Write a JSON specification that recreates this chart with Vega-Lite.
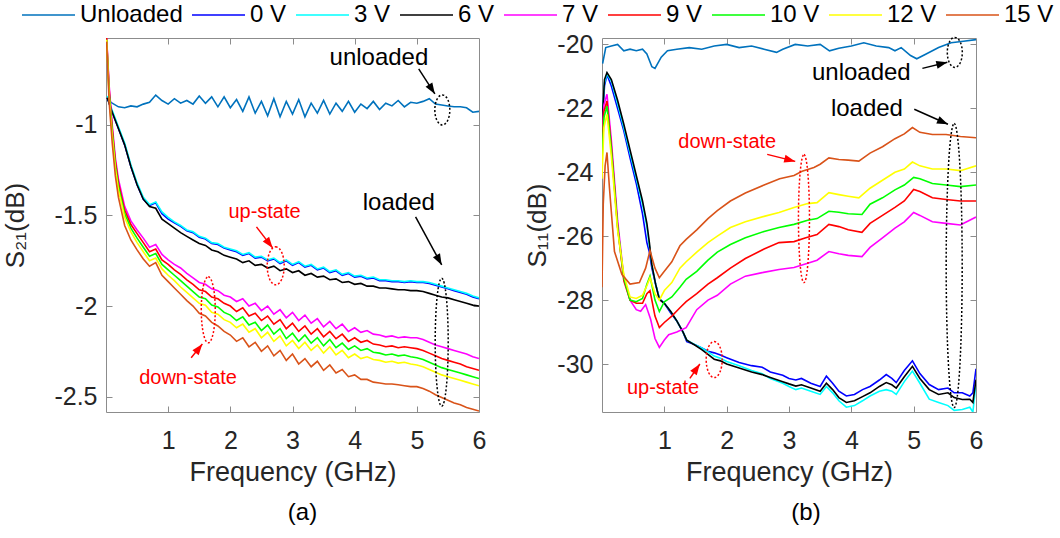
{
"$schema":"https://vega.github.io/schema/vega-lite/v6.json",
"background":"white",
"padding":{"left":2,"top":2,"right":5,"bottom":5},
"autosize":{"type":"pad"},
"config":{
 "font":"Liberation Sans",
 "view":{"stroke":"#8c8c8c","strokeWidth":1},
 "axis":{"grid":false,"domain":false,"ticks":true,"tickSize":-6,"tickColor":"#8c8c8c","tickWidth":1,"labelFont":"Liberation Sans","labelFontSize":25,"labelColor":"#262626","labelFlush":false,"labelOverlap":false,"titleFont":"Liberation Sans","titleFontSize":26,"titleFontWeight":"normal","titleColor":"#262626"},
 "axisX":{"labelPadding":22,"titlePadding":6,"titleFontSize":27},
 "axisY":{"labelPadding":15,"titlePadding":16},
 "title":{"font":"Liberation Sans","fontSize":24,"fontWeight":"normal","color":"#000000"}
},
"datasets":{
"s21":[
{"s":"Unloaded","f":0.02,"v":-0.86},{"s":"Unloaded","f":0.1,"v":-0.88},{"s":"Unloaded","f":0.2,"v":-0.9},{"s":"Unloaded","f":0.3,"v":-0.905},{"s":"Unloaded","f":0.4,"v":-0.895},{"s":"Unloaded","f":0.5,"v":-0.9},{"s":"Unloaded","f":0.6,"v":-0.885},{"s":"Unloaded","f":0.7,"v":-0.875},{"s":"Unloaded","f":0.8,"v":-0.835},{"s":"Unloaded","f":0.9,"v":-0.865},{"s":"Unloaded","f":1.0,"v":-0.885},{"s":"Unloaded","f":1.1,"v":-0.855},{"s":"Unloaded","f":1.2,"v":-0.88},{"s":"Unloaded","f":1.3,"v":-0.865},{"s":"Unloaded","f":1.4,"v":-0.885},{"s":"Unloaded","f":1.5,"v":-0.84},{"s":"Unloaded","f":1.6,"v":-0.88},{"s":"Unloaded","f":1.7,"v":-0.845},{"s":"Unloaded","f":1.8,"v":-0.9},{"s":"Unloaded","f":1.9,"v":-0.845},{"s":"Unloaded","f":2.0,"v":-0.905},{"s":"Unloaded","f":2.1,"v":-0.86},{"s":"Unloaded","f":2.2,"v":-0.925},{"s":"Unloaded","f":2.3,"v":-0.845},{"s":"Unloaded","f":2.4,"v":-0.935},{"s":"Unloaded","f":2.5,"v":-0.87},{"s":"Unloaded","f":2.6,"v":-0.95},{"s":"Unloaded","f":2.7,"v":-0.855},{"s":"Unloaded","f":2.8,"v":-0.955},{"s":"Unloaded","f":2.9,"v":-0.87},{"s":"Unloaded","f":3.0,"v":-0.94},{"s":"Unloaded","f":3.1,"v":-0.86},{"s":"Unloaded","f":3.2,"v":-0.955},{"s":"Unloaded","f":3.3,"v":-0.88},{"s":"Unloaded","f":3.4,"v":-0.935},{"s":"Unloaded","f":3.5,"v":-0.865},{"s":"Unloaded","f":3.6,"v":-0.94},{"s":"Unloaded","f":3.7,"v":-0.88},{"s":"Unloaded","f":3.8,"v":-0.925},{"s":"Unloaded","f":3.9,"v":-0.87},{"s":"Unloaded","f":4.0,"v":-0.93},{"s":"Unloaded","f":4.1,"v":-0.885},{"s":"Unloaded","f":4.2,"v":-0.91},{"s":"Unloaded","f":4.3,"v":-0.87},{"s":"Unloaded","f":4.4,"v":-0.915},{"s":"Unloaded","f":4.5,"v":-0.88},{"s":"Unloaded","f":4.6,"v":-0.895},{"s":"Unloaded","f":4.7,"v":-0.865},{"s":"Unloaded","f":4.8,"v":-0.9},{"s":"Unloaded","f":4.9,"v":-0.875},{"s":"Unloaded","f":5.0,"v":-0.88},{"s":"Unloaded","f":5.1,"v":-0.87},{"s":"Unloaded","f":5.2,"v":-0.855},{"s":"Unloaded","f":5.3,"v":-0.885},{"s":"Unloaded","f":5.4,"v":-0.89},{"s":"Unloaded","f":5.5,"v":-0.895},{"s":"Unloaded","f":5.6,"v":-0.9},{"s":"Unloaded","f":5.7,"v":-0.9},{"s":"Unloaded","f":5.8,"v":-0.905},{"s":"Unloaded","f":5.9,"v":-0.93},{"s":"Unloaded","f":6.0,"v":-0.925},
{"s":"0 V","f":0.02,"v":-0.85},{"s":"0 V","f":0.1,"v":-0.93},{"s":"0 V","f":0.2,"v":-1.02},{"s":"0 V","f":0.3,"v":-1.11},{"s":"0 V","f":0.4,"v":-1.23},{"s":"0 V","f":0.5,"v":-1.33},{"s":"0 V","f":0.6,"v":-1.41},{"s":"0 V","f":0.7,"v":-1.445},{"s":"0 V","f":0.8,"v":-1.43},{"s":"0 V","f":0.9,"v":-1.49},{"s":"0 V","f":1.0,"v":-1.52},{"s":"0 V","f":1.1,"v":-1.54},{"s":"0 V","f":1.2,"v":-1.56},{"s":"0 V","f":1.3,"v":-1.585},{"s":"0 V","f":1.4,"v":-1.595},{"s":"0 V","f":1.5,"v":-1.62},{"s":"0 V","f":1.6,"v":-1.63},{"s":"0 V","f":1.7,"v":-1.655},{"s":"0 V","f":1.8,"v":-1.66},{"s":"0 V","f":1.9,"v":-1.68},{"s":"0 V","f":2.0,"v":-1.69},{"s":"0 V","f":2.1,"v":-1.7},{"s":"0 V","f":2.2,"v":-1.72},{"s":"0 V","f":2.3,"v":-1.71},{"s":"0 V","f":2.4,"v":-1.735},{"s":"0 V","f":2.5,"v":-1.73},{"s":"0 V","f":2.6,"v":-1.75},{"s":"0 V","f":2.7,"v":-1.74},{"s":"0 V","f":2.8,"v":-1.765},{"s":"0 V","f":2.9,"v":-1.75},{"s":"0 V","f":3.0,"v":-1.775},{"s":"0 V","f":3.1,"v":-1.76},{"s":"0 V","f":3.2,"v":-1.785},{"s":"0 V","f":3.3,"v":-1.775},{"s":"0 V","f":3.4,"v":-1.8},{"s":"0 V","f":3.5,"v":-1.79},{"s":"0 V","f":3.6,"v":-1.815},{"s":"0 V","f":3.7,"v":-1.805},{"s":"0 V","f":3.8,"v":-1.83},{"s":"0 V","f":3.9,"v":-1.82},{"s":"0 V","f":4.0,"v":-1.84},{"s":"0 V","f":4.1,"v":-1.835},{"s":"0 V","f":4.2,"v":-1.85},{"s":"0 V","f":4.3,"v":-1.845},{"s":"0 V","f":4.4,"v":-1.86},{"s":"0 V","f":4.5,"v":-1.86},{"s":"0 V","f":4.6,"v":-1.865},{"s":"0 V","f":4.7,"v":-1.865},{"s":"0 V","f":4.8,"v":-1.87},{"s":"0 V","f":4.9,"v":-1.865},{"s":"0 V","f":5.0,"v":-1.87},{"s":"0 V","f":5.1,"v":-1.87},{"s":"0 V","f":5.2,"v":-1.875},{"s":"0 V","f":5.3,"v":-1.885},{"s":"0 V","f":5.4,"v":-1.895},{"s":"0 V","f":5.5,"v":-1.905},{"s":"0 V","f":5.6,"v":-1.915},{"s":"0 V","f":5.7,"v":-1.925},{"s":"0 V","f":5.8,"v":-1.935},{"s":"0 V","f":5.9,"v":-1.95},{"s":"0 V","f":6.0,"v":-1.96},
{"s":"3 V","f":0.02,"v":-0.84},{"s":"3 V","f":0.1,"v":-0.92},{"s":"3 V","f":0.2,"v":-1.01},{"s":"3 V","f":0.3,"v":-1.1},{"s":"3 V","f":0.4,"v":-1.22},{"s":"3 V","f":0.5,"v":-1.32},{"s":"3 V","f":0.6,"v":-1.4},{"s":"3 V","f":0.7,"v":-1.44},{"s":"3 V","f":0.8,"v":-1.425},{"s":"3 V","f":0.9,"v":-1.48},{"s":"3 V","f":1.0,"v":-1.51},{"s":"3 V","f":1.1,"v":-1.535},{"s":"3 V","f":1.2,"v":-1.555},{"s":"3 V","f":1.3,"v":-1.58},{"s":"3 V","f":1.4,"v":-1.59},{"s":"3 V","f":1.5,"v":-1.615},{"s":"3 V","f":1.6,"v":-1.625},{"s":"3 V","f":1.7,"v":-1.65},{"s":"3 V","f":1.8,"v":-1.655},{"s":"3 V","f":1.9,"v":-1.675},{"s":"3 V","f":2.0,"v":-1.685},{"s":"3 V","f":2.1,"v":-1.695},{"s":"3 V","f":2.2,"v":-1.715},{"s":"3 V","f":2.3,"v":-1.705},{"s":"3 V","f":2.4,"v":-1.73},{"s":"3 V","f":2.5,"v":-1.725},{"s":"3 V","f":2.6,"v":-1.745},{"s":"3 V","f":2.7,"v":-1.735},{"s":"3 V","f":2.8,"v":-1.76},{"s":"3 V","f":2.9,"v":-1.745},{"s":"3 V","f":3.0,"v":-1.77},{"s":"3 V","f":3.1,"v":-1.755},{"s":"3 V","f":3.2,"v":-1.78},{"s":"3 V","f":3.3,"v":-1.77},{"s":"3 V","f":3.4,"v":-1.795},{"s":"3 V","f":3.5,"v":-1.785},{"s":"3 V","f":3.6,"v":-1.81},{"s":"3 V","f":3.7,"v":-1.8},{"s":"3 V","f":3.8,"v":-1.825},{"s":"3 V","f":3.9,"v":-1.815},{"s":"3 V","f":4.0,"v":-1.835},{"s":"3 V","f":4.1,"v":-1.83},{"s":"3 V","f":4.2,"v":-1.845},{"s":"3 V","f":4.3,"v":-1.84},{"s":"3 V","f":4.4,"v":-1.855},{"s":"3 V","f":4.5,"v":-1.855},{"s":"3 V","f":4.6,"v":-1.86},{"s":"3 V","f":4.7,"v":-1.86},{"s":"3 V","f":4.8,"v":-1.865},{"s":"3 V","f":4.9,"v":-1.86},{"s":"3 V","f":5.0,"v":-1.865},{"s":"3 V","f":5.1,"v":-1.865},{"s":"3 V","f":5.2,"v":-1.87},{"s":"3 V","f":5.3,"v":-1.88},{"s":"3 V","f":5.4,"v":-1.89},{"s":"3 V","f":5.5,"v":-1.9},{"s":"3 V","f":5.6,"v":-1.91},{"s":"3 V","f":5.7,"v":-1.92},{"s":"3 V","f":5.8,"v":-1.93},{"s":"3 V","f":5.9,"v":-1.945},{"s":"3 V","f":6.0,"v":-1.955},
{"s":"6 V","f":0.02,"v":-0.85},{"s":"6 V","f":0.1,"v":-0.93},{"s":"6 V","f":0.2,"v":-1.02},{"s":"6 V","f":0.3,"v":-1.11},{"s":"6 V","f":0.4,"v":-1.23},{"s":"6 V","f":0.5,"v":-1.33},{"s":"6 V","f":0.6,"v":-1.41},{"s":"6 V","f":0.7,"v":-1.45},{"s":"6 V","f":0.8,"v":-1.46},{"s":"6 V","f":0.9,"v":-1.52},{"s":"6 V","f":1.0,"v":-1.545},{"s":"6 V","f":1.1,"v":-1.57},{"s":"6 V","f":1.2,"v":-1.595},{"s":"6 V","f":1.3,"v":-1.615},{"s":"6 V","f":1.4,"v":-1.635},{"s":"6 V","f":1.5,"v":-1.655},{"s":"6 V","f":1.6,"v":-1.665},{"s":"6 V","f":1.7,"v":-1.69},{"s":"6 V","f":1.8,"v":-1.7},{"s":"6 V","f":1.9,"v":-1.72},{"s":"6 V","f":2.0,"v":-1.73},{"s":"6 V","f":2.1,"v":-1.74},{"s":"6 V","f":2.2,"v":-1.76},{"s":"6 V","f":2.3,"v":-1.75},{"s":"6 V","f":2.4,"v":-1.775},{"s":"6 V","f":2.5,"v":-1.77},{"s":"6 V","f":2.6,"v":-1.79},{"s":"6 V","f":2.7,"v":-1.78},{"s":"6 V","f":2.8,"v":-1.805},{"s":"6 V","f":2.9,"v":-1.795},{"s":"6 V","f":3.0,"v":-1.815},{"s":"6 V","f":3.1,"v":-1.805},{"s":"6 V","f":3.2,"v":-1.83},{"s":"6 V","f":3.3,"v":-1.82},{"s":"6 V","f":3.4,"v":-1.84},{"s":"6 V","f":3.5,"v":-1.835},{"s":"6 V","f":3.6,"v":-1.855},{"s":"6 V","f":3.7,"v":-1.85},{"s":"6 V","f":3.8,"v":-1.87},{"s":"6 V","f":3.9,"v":-1.865},{"s":"6 V","f":4.0,"v":-1.88},{"s":"6 V","f":4.1,"v":-1.875},{"s":"6 V","f":4.2,"v":-1.89},{"s":"6 V","f":4.3,"v":-1.89},{"s":"6 V","f":4.4,"v":-1.9},{"s":"6 V","f":4.5,"v":-1.9},{"s":"6 V","f":4.6,"v":-1.905},{"s":"6 V","f":4.7,"v":-1.91},{"s":"6 V","f":4.8,"v":-1.91},{"s":"6 V","f":4.9,"v":-1.915},{"s":"6 V","f":5.0,"v":-1.915},{"s":"6 V","f":5.1,"v":-1.92},{"s":"6 V","f":5.2,"v":-1.93},{"s":"6 V","f":5.3,"v":-1.94},{"s":"6 V","f":5.4,"v":-1.95},{"s":"6 V","f":5.5,"v":-1.955},{"s":"6 V","f":5.6,"v":-1.965},{"s":"6 V","f":5.7,"v":-1.975},{"s":"6 V","f":5.8,"v":-1.985},{"s":"6 V","f":5.9,"v":-1.995},{"s":"6 V","f":6.0,"v":-2.0},
{"s":"7 V","f":0.01,"v":-0.52},{"s":"7 V","f":0.05,"v":-0.78},{"s":"7 V","f":0.1,"v":-1.0},{"s":"7 V","f":0.15,"v":-1.18},{"s":"7 V","f":0.2,"v":-1.3},{"s":"7 V","f":0.3,"v":-1.45},{"s":"7 V","f":0.4,"v":-1.53},{"s":"7 V","f":0.5,"v":-1.58},{"s":"7 V","f":0.6,"v":-1.625},{"s":"7 V","f":0.7,"v":-1.675},{"s":"7 V","f":0.8,"v":-1.66},{"s":"7 V","f":0.9,"v":-1.715},{"s":"7 V","f":1.0,"v":-1.745},{"s":"7 V","f":1.1,"v":-1.77},{"s":"7 V","f":1.2,"v":-1.79},{"s":"7 V","f":1.3,"v":-1.82},{"s":"7 V","f":1.4,"v":-1.845},{"s":"7 V","f":1.5,"v":-1.87},{"s":"7 V","f":1.6,"v":-1.88},{"s":"7 V","f":1.7,"v":-1.905},{"s":"7 V","f":1.8,"v":-1.915},{"s":"7 V","f":1.9,"v":-1.94},{"s":"7 V","f":2.0,"v":-1.95},{"s":"7 V","f":2.1,"v":-1.975},{"s":"7 V","f":2.2,"v":-1.96},{"s":"7 V","f":2.3,"v":-2.0},{"s":"7 V","f":2.4,"v":-1.985},{"s":"7 V","f":2.5,"v":-2.025},{"s":"7 V","f":2.6,"v":-2.0},{"s":"7 V","f":2.7,"v":-2.045},{"s":"7 V","f":2.8,"v":-2.02},{"s":"7 V","f":2.9,"v":-2.065},{"s":"7 V","f":3.0,"v":-2.035},{"s":"7 V","f":3.1,"v":-2.08},{"s":"7 V","f":3.2,"v":-2.05},{"s":"7 V","f":3.3,"v":-2.095},{"s":"7 V","f":3.4,"v":-2.07},{"s":"7 V","f":3.5,"v":-2.115},{"s":"7 V","f":3.6,"v":-2.085},{"s":"7 V","f":3.7,"v":-2.125},{"s":"7 V","f":3.8,"v":-2.1},{"s":"7 V","f":3.9,"v":-2.14},{"s":"7 V","f":4.0,"v":-2.12},{"s":"7 V","f":4.1,"v":-2.145},{"s":"7 V","f":4.2,"v":-2.135},{"s":"7 V","f":4.3,"v":-2.155},{"s":"7 V","f":4.4,"v":-2.16},{"s":"7 V","f":4.5,"v":-2.17},{"s":"7 V","f":4.6,"v":-2.165},{"s":"7 V","f":4.7,"v":-2.175},{"s":"7 V","f":4.8,"v":-2.17},{"s":"7 V","f":4.9,"v":-2.175},{"s":"7 V","f":5.0,"v":-2.175},{"s":"7 V","f":5.1,"v":-2.185},{"s":"7 V","f":5.2,"v":-2.2},{"s":"7 V","f":5.3,"v":-2.215},{"s":"7 V","f":5.4,"v":-2.225},{"s":"7 V","f":5.5,"v":-2.235},{"s":"7 V","f":5.6,"v":-2.245},{"s":"7 V","f":5.7,"v":-2.255},{"s":"7 V","f":5.8,"v":-2.265},{"s":"7 V","f":5.9,"v":-2.28},{"s":"7 V","f":6.0,"v":-2.29},
{"s":"9 V","f":0.01,"v":-0.52},{"s":"9 V","f":0.05,"v":-0.8},{"s":"9 V","f":0.1,"v":-1.02},{"s":"9 V","f":0.15,"v":-1.2},{"s":"9 V","f":0.2,"v":-1.32},{"s":"9 V","f":0.3,"v":-1.47},{"s":"9 V","f":0.4,"v":-1.55},{"s":"9 V","f":0.5,"v":-1.6},{"s":"9 V","f":0.6,"v":-1.65},{"s":"9 V","f":0.7,"v":-1.7},{"s":"9 V","f":0.8,"v":-1.685},{"s":"9 V","f":0.9,"v":-1.745},{"s":"9 V","f":1.0,"v":-1.77},{"s":"9 V","f":1.1,"v":-1.8},{"s":"9 V","f":1.2,"v":-1.825},{"s":"9 V","f":1.3,"v":-1.855},{"s":"9 V","f":1.4,"v":-1.88},{"s":"9 V","f":1.5,"v":-1.91},{"s":"9 V","f":1.6,"v":-1.92},{"s":"9 V","f":1.7,"v":-1.95},{"s":"9 V","f":1.8,"v":-1.96},{"s":"9 V","f":1.9,"v":-1.985},{"s":"9 V","f":2.0,"v":-2.0},{"s":"9 V","f":2.1,"v":-2.03},{"s":"9 V","f":2.2,"v":-2.01},{"s":"9 V","f":2.3,"v":-2.055},{"s":"9 V","f":2.4,"v":-2.04},{"s":"9 V","f":2.5,"v":-2.08},{"s":"9 V","f":2.6,"v":-2.055},{"s":"9 V","f":2.7,"v":-2.1},{"s":"9 V","f":2.8,"v":-2.075},{"s":"9 V","f":2.9,"v":-2.125},{"s":"9 V","f":3.0,"v":-2.095},{"s":"9 V","f":3.1,"v":-2.14},{"s":"9 V","f":3.2,"v":-2.11},{"s":"9 V","f":3.3,"v":-2.155},{"s":"9 V","f":3.4,"v":-2.125},{"s":"9 V","f":3.5,"v":-2.17},{"s":"9 V","f":3.6,"v":-2.14},{"s":"9 V","f":3.7,"v":-2.18},{"s":"9 V","f":3.8,"v":-2.155},{"s":"9 V","f":3.9,"v":-2.195},{"s":"9 V","f":4.0,"v":-2.175},{"s":"9 V","f":4.1,"v":-2.2},{"s":"9 V","f":4.2,"v":-2.19},{"s":"9 V","f":4.3,"v":-2.21},{"s":"9 V","f":4.4,"v":-2.215},{"s":"9 V","f":4.5,"v":-2.225},{"s":"9 V","f":4.6,"v":-2.22},{"s":"9 V","f":4.7,"v":-2.23},{"s":"9 V","f":4.8,"v":-2.225},{"s":"9 V","f":4.9,"v":-2.23},{"s":"9 V","f":5.0,"v":-2.235},{"s":"9 V","f":5.1,"v":-2.245},{"s":"9 V","f":5.2,"v":-2.26},{"s":"9 V","f":5.3,"v":-2.275},{"s":"9 V","f":5.4,"v":-2.29},{"s":"9 V","f":5.5,"v":-2.3},{"s":"9 V","f":5.6,"v":-2.31},{"s":"9 V","f":5.7,"v":-2.32},{"s":"9 V","f":5.8,"v":-2.335},{"s":"9 V","f":5.9,"v":-2.345},{"s":"9 V","f":6.0,"v":-2.355},
{"s":"10 V","f":0.01,"v":-0.53},{"s":"10 V","f":0.05,"v":-0.82},{"s":"10 V","f":0.1,"v":-1.04},{"s":"10 V","f":0.15,"v":-1.22},{"s":"10 V","f":0.2,"v":-1.34},{"s":"10 V","f":0.3,"v":-1.49},{"s":"10 V","f":0.4,"v":-1.57},{"s":"10 V","f":0.5,"v":-1.625},{"s":"10 V","f":0.6,"v":-1.675},{"s":"10 V","f":0.7,"v":-1.725},{"s":"10 V","f":0.8,"v":-1.71},{"s":"10 V","f":0.9,"v":-1.77},{"s":"10 V","f":1.0,"v":-1.8},{"s":"10 V","f":1.1,"v":-1.83},{"s":"10 V","f":1.2,"v":-1.86},{"s":"10 V","f":1.3,"v":-1.89},{"s":"10 V","f":1.4,"v":-1.92},{"s":"10 V","f":1.5,"v":-1.95},{"s":"10 V","f":1.6,"v":-1.96},{"s":"10 V","f":1.7,"v":-1.995},{"s":"10 V","f":1.8,"v":-2.005},{"s":"10 V","f":1.9,"v":-2.035},{"s":"10 V","f":2.0,"v":-2.05},{"s":"10 V","f":2.1,"v":-2.08},{"s":"10 V","f":2.2,"v":-2.06},{"s":"10 V","f":2.3,"v":-2.105},{"s":"10 V","f":2.4,"v":-2.09},{"s":"10 V","f":2.5,"v":-2.135},{"s":"10 V","f":2.6,"v":-2.105},{"s":"10 V","f":2.7,"v":-2.155},{"s":"10 V","f":2.8,"v":-2.125},{"s":"10 V","f":2.9,"v":-2.18},{"s":"10 V","f":3.0,"v":-2.15},{"s":"10 V","f":3.1,"v":-2.195},{"s":"10 V","f":3.2,"v":-2.16},{"s":"10 V","f":3.3,"v":-2.205},{"s":"10 V","f":3.4,"v":-2.175},{"s":"10 V","f":3.5,"v":-2.22},{"s":"10 V","f":3.6,"v":-2.185},{"s":"10 V","f":3.7,"v":-2.23},{"s":"10 V","f":3.8,"v":-2.205},{"s":"10 V","f":3.9,"v":-2.24},{"s":"10 V","f":4.0,"v":-2.22},{"s":"10 V","f":4.1,"v":-2.245},{"s":"10 V","f":4.2,"v":-2.235},{"s":"10 V","f":4.3,"v":-2.255},{"s":"10 V","f":4.4,"v":-2.26},{"s":"10 V","f":4.5,"v":-2.27},{"s":"10 V","f":4.6,"v":-2.265},{"s":"10 V","f":4.7,"v":-2.275},{"s":"10 V","f":4.8,"v":-2.27},{"s":"10 V","f":4.9,"v":-2.28},{"s":"10 V","f":5.0,"v":-2.285},{"s":"10 V","f":5.1,"v":-2.295},{"s":"10 V","f":5.2,"v":-2.31},{"s":"10 V","f":5.3,"v":-2.325},{"s":"10 V","f":5.4,"v":-2.34},{"s":"10 V","f":5.5,"v":-2.35},{"s":"10 V","f":5.6,"v":-2.36},{"s":"10 V","f":5.7,"v":-2.37},{"s":"10 V","f":5.8,"v":-2.38},{"s":"10 V","f":5.9,"v":-2.39},{"s":"10 V","f":6.0,"v":-2.4},
{"s":"12 V","f":0.01,"v":-0.53},{"s":"12 V","f":0.05,"v":-0.84},{"s":"12 V","f":0.1,"v":-1.06},{"s":"12 V","f":0.15,"v":-1.24},{"s":"12 V","f":0.2,"v":-1.36},{"s":"12 V","f":0.3,"v":-1.51},{"s":"12 V","f":0.4,"v":-1.59},{"s":"12 V","f":0.5,"v":-1.65},{"s":"12 V","f":0.6,"v":-1.7},{"s":"12 V","f":0.7,"v":-1.75},{"s":"12 V","f":0.8,"v":-1.735},{"s":"12 V","f":0.9,"v":-1.795},{"s":"12 V","f":1.0,"v":-1.83},{"s":"12 V","f":1.1,"v":-1.86},{"s":"12 V","f":1.2,"v":-1.895},{"s":"12 V","f":1.3,"v":-1.925},{"s":"12 V","f":1.4,"v":-1.955},{"s":"12 V","f":1.5,"v":-1.985},{"s":"12 V","f":1.6,"v":-1.995},{"s":"12 V","f":1.7,"v":-2.035},{"s":"12 V","f":1.8,"v":-2.045},{"s":"12 V","f":1.9,"v":-2.075},{"s":"12 V","f":2.0,"v":-2.09},{"s":"12 V","f":2.1,"v":-2.12},{"s":"12 V","f":2.2,"v":-2.1},{"s":"12 V","f":2.3,"v":-2.145},{"s":"12 V","f":2.4,"v":-2.125},{"s":"12 V","f":2.5,"v":-2.175},{"s":"12 V","f":2.6,"v":-2.145},{"s":"12 V","f":2.7,"v":-2.195},{"s":"12 V","f":2.8,"v":-2.165},{"s":"12 V","f":2.9,"v":-2.22},{"s":"12 V","f":3.0,"v":-2.19},{"s":"12 V","f":3.1,"v":-2.235},{"s":"12 V","f":3.2,"v":-2.2},{"s":"12 V","f":3.3,"v":-2.245},{"s":"12 V","f":3.4,"v":-2.215},{"s":"12 V","f":3.5,"v":-2.26},{"s":"12 V","f":3.6,"v":-2.225},{"s":"12 V","f":3.7,"v":-2.27},{"s":"12 V","f":3.8,"v":-2.245},{"s":"12 V","f":3.9,"v":-2.285},{"s":"12 V","f":4.0,"v":-2.265},{"s":"12 V","f":4.1,"v":-2.29},{"s":"12 V","f":4.2,"v":-2.28},{"s":"12 V","f":4.3,"v":-2.295},{"s":"12 V","f":4.4,"v":-2.3},{"s":"12 V","f":4.5,"v":-2.31},{"s":"12 V","f":4.6,"v":-2.305},{"s":"12 V","f":4.7,"v":-2.315},{"s":"12 V","f":4.8,"v":-2.31},{"s":"12 V","f":4.9,"v":-2.32},{"s":"12 V","f":5.0,"v":-2.325},{"s":"12 V","f":5.1,"v":-2.335},{"s":"12 V","f":5.2,"v":-2.35},{"s":"12 V","f":5.3,"v":-2.365},{"s":"12 V","f":5.4,"v":-2.38},{"s":"12 V","f":5.5,"v":-2.39},{"s":"12 V","f":5.6,"v":-2.4},{"s":"12 V","f":5.7,"v":-2.41},{"s":"12 V","f":5.8,"v":-2.42},{"s":"12 V","f":5.9,"v":-2.43},{"s":"12 V","f":6.0,"v":-2.44},
{"s":"15 V","f":0.01,"v":-0.54},{"s":"15 V","f":0.05,"v":-0.87},{"s":"15 V","f":0.1,"v":-1.1},{"s":"15 V","f":0.15,"v":-1.28},{"s":"15 V","f":0.2,"v":-1.4},{"s":"15 V","f":0.3,"v":-1.555},{"s":"15 V","f":0.4,"v":-1.635},{"s":"15 V","f":0.5,"v":-1.69},{"s":"15 V","f":0.6,"v":-1.74},{"s":"15 V","f":0.7,"v":-1.78},{"s":"15 V","f":0.8,"v":-1.76},{"s":"15 V","f":0.9,"v":-1.83},{"s":"15 V","f":1.0,"v":-1.865},{"s":"15 V","f":1.1,"v":-1.9},{"s":"15 V","f":1.2,"v":-1.935},{"s":"15 V","f":1.3,"v":-1.97},{"s":"15 V","f":1.4,"v":-2.0},{"s":"15 V","f":1.5,"v":-2.04},{"s":"15 V","f":1.6,"v":-2.055},{"s":"15 V","f":1.7,"v":-2.09},{"s":"15 V","f":1.8,"v":-2.11},{"s":"15 V","f":1.9,"v":-2.14},{"s":"15 V","f":2.0,"v":-2.16},{"s":"15 V","f":2.1,"v":-2.195},{"s":"15 V","f":2.2,"v":-2.175},{"s":"15 V","f":2.3,"v":-2.225},{"s":"15 V","f":2.4,"v":-2.2},{"s":"15 V","f":2.5,"v":-2.25},{"s":"15 V","f":2.6,"v":-2.22},{"s":"15 V","f":2.7,"v":-2.275},{"s":"15 V","f":2.8,"v":-2.245},{"s":"15 V","f":2.9,"v":-2.3},{"s":"15 V","f":3.0,"v":-2.265},{"s":"15 V","f":3.1,"v":-2.32},{"s":"15 V","f":3.2,"v":-2.29},{"s":"15 V","f":3.3,"v":-2.335},{"s":"15 V","f":3.4,"v":-2.305},{"s":"15 V","f":3.5,"v":-2.355},{"s":"15 V","f":3.6,"v":-2.325},{"s":"15 V","f":3.7,"v":-2.37},{"s":"15 V","f":3.8,"v":-2.35},{"s":"15 V","f":3.9,"v":-2.39},{"s":"15 V","f":4.0,"v":-2.38},{"s":"15 V","f":4.1,"v":-2.405},{"s":"15 V","f":4.2,"v":-2.405},{"s":"15 V","f":4.3,"v":-2.42},{"s":"15 V","f":4.4,"v":-2.425},{"s":"15 V","f":4.5,"v":-2.43},{"s":"15 V","f":4.6,"v":-2.43},{"s":"15 V","f":4.7,"v":-2.435},{"s":"15 V","f":4.8,"v":-2.44},{"s":"15 V","f":4.9,"v":-2.445},{"s":"15 V","f":5.0,"v":-2.445},{"s":"15 V","f":5.1,"v":-2.455},{"s":"15 V","f":5.2,"v":-2.47},{"s":"15 V","f":5.3,"v":-2.49},{"s":"15 V","f":5.4,"v":-2.505},{"s":"15 V","f":5.5,"v":-2.52},{"s":"15 V","f":5.6,"v":-2.535},{"s":"15 V","f":5.7,"v":-2.545},{"s":"15 V","f":5.8,"v":-2.56},{"s":"15 V","f":5.9,"v":-2.57},{"s":"15 V","f":6.0,"v":-2.58}
],
"s11":[
{"s":"Unloaded","f":0.01,"v":-20.6},{"s":"Unloaded","f":0.06,"v":-20.1},{"s":"Unloaded","f":0.15,"v":-20.05},{"s":"Unloaded","f":0.25,"v":-20.0},{"s":"Unloaded","f":0.35,"v":-20.2},{"s":"Unloaded","f":0.45,"v":-20.15},{"s":"Unloaded","f":0.55,"v":-20.2},{"s":"Unloaded","f":0.65,"v":-20.15},{"s":"Unloaded","f":0.72,"v":-20.3},{"s":"Unloaded","f":0.8,"v":-20.7},{"s":"Unloaded","f":0.85,"v":-20.75},{"s":"Unloaded","f":0.95,"v":-20.4},{"s":"Unloaded","f":1.05,"v":-20.2},{"s":"Unloaded","f":1.2,"v":-20.15},{"s":"Unloaded","f":1.4,"v":-20.1},{"s":"Unloaded","f":1.6,"v":-20.15},{"s":"Unloaded","f":1.8,"v":-20.05},{"s":"Unloaded","f":2.0,"v":-20.0},{"s":"Unloaded","f":2.2,"v":-20.1},{"s":"Unloaded","f":2.4,"v":-20.05},{"s":"Unloaded","f":2.6,"v":-20.15},{"s":"Unloaded","f":2.8,"v":-20.25},{"s":"Unloaded","f":2.9,"v":-20.15},{"s":"Unloaded","f":3.1,"v":-20.0},{"s":"Unloaded","f":3.3,"v":-20.05},{"s":"Unloaded","f":3.5,"v":-20.0},{"s":"Unloaded","f":3.65,"v":-20.2},{"s":"Unloaded","f":3.8,"v":-20.12},{"s":"Unloaded","f":4.0,"v":-20.05},{"s":"Unloaded","f":4.2,"v":-19.95},{"s":"Unloaded","f":4.4,"v":-20.05},{"s":"Unloaded","f":4.6,"v":-20.1},{"s":"Unloaded","f":4.7,"v":-20.2},{"s":"Unloaded","f":4.8,"v":-20.1},{"s":"Unloaded","f":4.95,"v":-20.35},{"s":"Unloaded","f":5.05,"v":-20.45},{"s":"Unloaded","f":5.2,"v":-20.3},{"s":"Unloaded","f":5.4,"v":-20.1},{"s":"Unloaded","f":5.6,"v":-19.95},{"s":"Unloaded","f":5.8,"v":-19.9},{"s":"Unloaded","f":6.0,"v":-19.85},
{"s":"0 V","f":0.0,"v":-22.6},{"s":"0 V","f":0.04,"v":-21.3},{"s":"0 V","f":0.08,"v":-20.95},{"s":"0 V","f":0.15,"v":-21.3},{"s":"0 V","f":0.25,"v":-22.0},{"s":"0 V","f":0.35,"v":-22.7},{"s":"0 V","f":0.45,"v":-23.55},{"s":"0 V","f":0.55,"v":-24.35},{"s":"0 V","f":0.65,"v":-25.3},{"s":"0 V","f":0.72,"v":-26.2},{"s":"0 V","f":0.76,"v":-26.5},{"s":"0 V","f":0.8,"v":-27.0},{"s":"0 V","f":0.86,"v":-27.5},{"s":"0 V","f":0.92,"v":-27.95},{"s":"0 V","f":1.0,"v":-28.1},{"s":"0 V","f":1.1,"v":-28.4},{"s":"0 V","f":1.2,"v":-28.65},{"s":"0 V","f":1.3,"v":-29.0},{"s":"0 V","f":1.36,"v":-29.3},{"s":"0 V","f":1.5,"v":-29.4},{"s":"0 V","f":1.6,"v":-29.5},{"s":"0 V","f":1.7,"v":-29.6},{"s":"0 V","f":1.8,"v":-29.65},{"s":"0 V","f":1.9,"v":-29.72},{"s":"0 V","f":2.0,"v":-29.8},{"s":"0 V","f":2.2,"v":-29.95},{"s":"0 V","f":2.4,"v":-30.05},{"s":"0 V","f":2.57,"v":-30.1},{"s":"0 V","f":2.7,"v":-30.25},{"s":"0 V","f":2.9,"v":-30.35},{"s":"0 V","f":3.0,"v":-30.45},{"s":"0 V","f":3.11,"v":-30.5},{"s":"0 V","f":3.2,"v":-30.45},{"s":"0 V","f":3.35,"v":-30.6},{"s":"0 V","f":3.5,"v":-30.7},{"s":"0 V","f":3.6,"v":-30.38},{"s":"0 V","f":3.7,"v":-30.6},{"s":"0 V","f":3.8,"v":-30.85},{"s":"0 V","f":3.92,"v":-31.0},{"s":"0 V","f":4.05,"v":-30.95},{"s":"0 V","f":4.18,"v":-30.8},{"s":"0 V","f":4.3,"v":-30.7},{"s":"0 V","f":4.45,"v":-30.5},{"s":"0 V","f":4.56,"v":-30.33},{"s":"0 V","f":4.65,"v":-30.45},{"s":"0 V","f":4.72,"v":-30.58},{"s":"0 V","f":4.85,"v":-30.2},{"s":"0 V","f":4.98,"v":-29.9},{"s":"0 V","f":5.1,"v":-30.3},{"s":"0 V","f":5.25,"v":-30.64},{"s":"0 V","f":5.4,"v":-30.8},{"s":"0 V","f":5.55,"v":-30.75},{"s":"0 V","f":5.65,"v":-30.9},{"s":"0 V","f":5.78,"v":-30.9},{"s":"0 V","f":5.9,"v":-31.0},{"s":"0 V","f":5.95,"v":-30.9},{"s":"0 V","f":6.0,"v":-30.15},
{"s":"3 V","f":0.0,"v":-22.4},{"s":"3 V","f":0.04,"v":-21.2},{"s":"3 V","f":0.08,"v":-20.92},{"s":"3 V","f":0.15,"v":-21.15},{"s":"3 V","f":0.25,"v":-21.85},{"s":"3 V","f":0.35,"v":-22.6},{"s":"3 V","f":0.45,"v":-23.4},{"s":"3 V","f":0.55,"v":-24.2},{"s":"3 V","f":0.65,"v":-25.0},{"s":"3 V","f":0.72,"v":-25.7},{"s":"3 V","f":0.76,"v":-26.3},{"s":"3 V","f":0.8,"v":-26.9},{"s":"3 V","f":0.86,"v":-27.5},{"s":"3 V","f":0.92,"v":-27.95},{"s":"3 V","f":1.0,"v":-28.1},{"s":"3 V","f":1.1,"v":-28.35},{"s":"3 V","f":1.2,"v":-28.65},{"s":"3 V","f":1.3,"v":-29.0},{"s":"3 V","f":1.36,"v":-29.25},{"s":"3 V","f":1.5,"v":-29.4},{"s":"3 V","f":1.6,"v":-29.5},{"s":"3 V","f":1.7,"v":-29.62},{"s":"3 V","f":1.8,"v":-29.75},{"s":"3 V","f":1.9,"v":-29.82},{"s":"3 V","f":2.0,"v":-29.92},{"s":"3 V","f":2.2,"v":-30.05},{"s":"3 V","f":2.4,"v":-30.2},{"s":"3 V","f":2.57,"v":-30.3},{"s":"3 V","f":2.7,"v":-30.45},{"s":"3 V","f":2.9,"v":-30.6},{"s":"3 V","f":3.0,"v":-30.7},{"s":"3 V","f":3.11,"v":-30.8},{"s":"3 V","f":3.2,"v":-30.75},{"s":"3 V","f":3.35,"v":-30.85},{"s":"3 V","f":3.5,"v":-30.95},{"s":"3 V","f":3.6,"v":-30.7},{"s":"3 V","f":3.7,"v":-30.9},{"s":"3 V","f":3.8,"v":-31.15},{"s":"3 V","f":3.92,"v":-31.35},{"s":"3 V","f":4.05,"v":-31.3},{"s":"3 V","f":4.18,"v":-31.15},{"s":"3 V","f":4.3,"v":-31.0},{"s":"3 V","f":4.45,"v":-30.85},{"s":"3 V","f":4.56,"v":-30.8},{"s":"3 V","f":4.65,"v":-30.85},{"s":"3 V","f":4.72,"v":-30.95},{"s":"3 V","f":4.85,"v":-30.55},{"s":"3 V","f":4.98,"v":-30.22},{"s":"3 V","f":5.1,"v":-30.6},{"s":"3 V","f":5.25,"v":-31.1},{"s":"3 V","f":5.4,"v":-31.2},{"s":"3 V","f":5.55,"v":-31.3},{"s":"3 V","f":5.65,"v":-31.45},{"s":"3 V","f":5.78,"v":-31.42},{"s":"3 V","f":5.9,"v":-31.35},{"s":"3 V","f":5.95,"v":-31.5},{"s":"3 V","f":6.0,"v":-30.6},
{"s":"6 V","f":0.0,"v":-22.5},{"s":"6 V","f":0.04,"v":-21.1},{"s":"6 V","f":0.08,"v":-20.88},{"s":"6 V","f":0.15,"v":-21.1},{"s":"6 V","f":0.25,"v":-21.75},{"s":"6 V","f":0.35,"v":-22.5},{"s":"6 V","f":0.45,"v":-23.3},{"s":"6 V","f":0.55,"v":-24.1},{"s":"6 V","f":0.65,"v":-24.9},{"s":"6 V","f":0.72,"v":-25.6},{"s":"6 V","f":0.76,"v":-26.2},{"s":"6 V","f":0.8,"v":-26.9},{"s":"6 V","f":0.86,"v":-27.5},{"s":"6 V","f":0.92,"v":-27.98},{"s":"6 V","f":1.0,"v":-28.1},{"s":"6 V","f":1.1,"v":-28.35},{"s":"6 V","f":1.2,"v":-28.65},{"s":"6 V","f":1.3,"v":-29.0},{"s":"6 V","f":1.36,"v":-29.25},{"s":"6 V","f":1.5,"v":-29.42},{"s":"6 V","f":1.6,"v":-29.55},{"s":"6 V","f":1.7,"v":-29.7},{"s":"6 V","f":1.8,"v":-29.85},{"s":"6 V","f":1.9,"v":-29.9},{"s":"6 V","f":2.0,"v":-30.0},{"s":"6 V","f":2.2,"v":-30.12},{"s":"6 V","f":2.4,"v":-30.25},{"s":"6 V","f":2.57,"v":-30.33},{"s":"6 V","f":2.7,"v":-30.42},{"s":"6 V","f":2.9,"v":-30.55},{"s":"6 V","f":3.0,"v":-30.62},{"s":"6 V","f":3.11,"v":-30.69},{"s":"6 V","f":3.2,"v":-30.65},{"s":"6 V","f":3.35,"v":-30.75},{"s":"6 V","f":3.5,"v":-30.85},{"s":"6 V","f":3.6,"v":-30.6},{"s":"6 V","f":3.7,"v":-30.8},{"s":"6 V","f":3.8,"v":-31.05},{"s":"6 V","f":3.92,"v":-31.2},{"s":"6 V","f":4.05,"v":-31.15},{"s":"6 V","f":4.18,"v":-31.02},{"s":"6 V","f":4.3,"v":-30.9},{"s":"6 V","f":4.45,"v":-30.7},{"s":"6 V","f":4.56,"v":-30.58},{"s":"6 V","f":4.65,"v":-30.65},{"s":"6 V","f":4.72,"v":-30.75},{"s":"6 V","f":4.85,"v":-30.4},{"s":"6 V","f":4.98,"v":-30.07},{"s":"6 V","f":5.1,"v":-30.45},{"s":"6 V","f":5.25,"v":-30.8},{"s":"6 V","f":5.4,"v":-30.95},{"s":"6 V","f":5.55,"v":-30.9},{"s":"6 V","f":5.65,"v":-31.05},{"s":"6 V","f":5.78,"v":-31.11},{"s":"6 V","f":5.9,"v":-31.1},{"s":"6 V","f":5.95,"v":-31.2},{"s":"6 V","f":6.0,"v":-30.49},
{"s":"7 V","f":0.0,"v":-23.0},{"s":"7 V","f":0.03,"v":-21.9},{"s":"7 V","f":0.08,"v":-21.56},{"s":"7 V","f":0.15,"v":-23.0},{"s":"7 V","f":0.25,"v":-25.5},{"s":"7 V","f":0.35,"v":-27.3},{"s":"7 V","f":0.45,"v":-28.0},{"s":"7 V","f":0.55,"v":-28.3},{"s":"7 V","f":0.62,"v":-28.35},{"s":"7 V","f":0.7,"v":-28.14},{"s":"7 V","f":0.78,"v":-28.6},{"s":"7 V","f":0.85,"v":-29.2},{"s":"7 V","f":0.92,"v":-29.48},{"s":"7 V","f":1.0,"v":-29.25},{"s":"7 V","f":1.07,"v":-29.08},{"s":"7 V","f":1.2,"v":-29.0},{"s":"7 V","f":1.35,"v":-28.86},{"s":"7 V","f":1.52,"v":-28.3},{"s":"7 V","f":1.7,"v":-28.0},{"s":"7 V","f":1.85,"v":-27.85},{"s":"7 V","f":2.06,"v":-27.5},{"s":"7 V","f":2.3,"v":-27.25},{"s":"7 V","f":2.57,"v":-27.14},{"s":"7 V","f":2.84,"v":-27.04},{"s":"7 V","f":3.08,"v":-26.98},{"s":"7 V","f":3.3,"v":-26.85},{"s":"7 V","f":3.45,"v":-26.75},{"s":"7 V","f":3.64,"v":-26.48},{"s":"7 V","f":3.8,"v":-26.55},{"s":"7 V","f":3.95,"v":-26.6},{"s":"7 V","f":4.17,"v":-26.64},{"s":"7 V","f":4.3,"v":-26.35},{"s":"7 V","f":4.5,"v":-26.05},{"s":"7 V","f":4.7,"v":-25.75},{"s":"7 V","f":4.85,"v":-25.55},{"s":"7 V","f":5.0,"v":-25.26},{"s":"7 V","f":5.1,"v":-25.35},{"s":"7 V","f":5.3,"v":-25.55},{"s":"7 V","f":5.52,"v":-25.6},{"s":"7 V","f":5.75,"v":-25.65},{"s":"7 V","f":6.0,"v":-25.4},
{"s":"9 V","f":0.0,"v":-23.2},{"s":"9 V","f":0.03,"v":-22.1},{"s":"9 V","f":0.08,"v":-21.77},{"s":"9 V","f":0.15,"v":-23.2},{"s":"9 V","f":0.25,"v":-25.7},{"s":"9 V","f":0.35,"v":-27.4},{"s":"9 V","f":0.45,"v":-28.0},{"s":"9 V","f":0.55,"v":-28.1},{"s":"9 V","f":0.65,"v":-28.1},{"s":"9 V","f":0.72,"v":-27.8},{"s":"9 V","f":0.77,"v":-27.7},{"s":"9 V","f":0.85,"v":-28.5},{"s":"9 V","f":0.92,"v":-28.86},{"s":"9 V","f":1.0,"v":-28.7},{"s":"9 V","f":1.12,"v":-28.5},{"s":"9 V","f":1.25,"v":-28.24},{"s":"9 V","f":1.35,"v":-28.05},{"s":"9 V","f":1.52,"v":-27.8},{"s":"9 V","f":1.7,"v":-27.5},{"s":"9 V","f":1.85,"v":-27.3},{"s":"9 V","f":2.06,"v":-27.0},{"s":"9 V","f":2.3,"v":-26.7},{"s":"9 V","f":2.6,"v":-26.4},{"s":"9 V","f":2.84,"v":-26.2},{"s":"9 V","f":3.08,"v":-26.17},{"s":"9 V","f":3.27,"v":-26.05},{"s":"9 V","f":3.45,"v":-25.95},{"s":"9 V","f":3.64,"v":-25.63},{"s":"9 V","f":3.8,"v":-25.7},{"s":"9 V","f":3.95,"v":-25.8},{"s":"9 V","f":4.17,"v":-25.88},{"s":"9 V","f":4.3,"v":-25.6},{"s":"9 V","f":4.5,"v":-25.35},{"s":"9 V","f":4.7,"v":-25.1},{"s":"9 V","f":4.85,"v":-24.9},{"s":"9 V","f":5.0,"v":-24.54},{"s":"9 V","f":5.1,"v":-24.6},{"s":"9 V","f":5.3,"v":-24.8},{"s":"9 V","f":5.52,"v":-24.85},{"s":"9 V","f":5.75,"v":-24.9},{"s":"9 V","f":6.0,"v":-24.9},
{"s":"10 V","f":0.0,"v":-23.6},{"s":"10 V","f":0.03,"v":-22.3},{"s":"10 V","f":0.08,"v":-21.93},{"s":"10 V","f":0.15,"v":-23.3},{"s":"10 V","f":0.25,"v":-25.7},{"s":"10 V","f":0.35,"v":-27.3},{"s":"10 V","f":0.45,"v":-28.0},{"s":"10 V","f":0.55,"v":-28.05},{"s":"10 V","f":0.65,"v":-27.95},{"s":"10 V","f":0.72,"v":-27.5},{"s":"10 V","f":0.77,"v":-27.25},{"s":"10 V","f":0.85,"v":-28.0},{"s":"10 V","f":0.92,"v":-28.36},{"s":"10 V","f":1.0,"v":-28.05},{"s":"10 V","f":1.12,"v":-27.9},{"s":"10 V","f":1.25,"v":-27.6},{"s":"10 V","f":1.35,"v":-27.35},{"s":"10 V","f":1.52,"v":-27.1},{"s":"10 V","f":1.7,"v":-26.75},{"s":"10 V","f":1.85,"v":-26.5},{"s":"10 V","f":2.06,"v":-26.26},{"s":"10 V","f":2.3,"v":-26.05},{"s":"10 V","f":2.6,"v":-25.85},{"s":"10 V","f":2.84,"v":-25.73},{"s":"10 V","f":3.08,"v":-25.63},{"s":"10 V","f":3.3,"v":-25.5},{"s":"10 V","f":3.45,"v":-25.45},{"s":"10 V","f":3.64,"v":-25.22},{"s":"10 V","f":3.8,"v":-25.25},{"s":"10 V","f":3.95,"v":-25.3},{"s":"10 V","f":4.17,"v":-25.32},{"s":"10 V","f":4.3,"v":-25.0},{"s":"10 V","f":4.5,"v":-24.8},{"s":"10 V","f":4.7,"v":-24.55},{"s":"10 V","f":4.85,"v":-24.4},{"s":"10 V","f":5.0,"v":-24.16},{"s":"10 V","f":5.1,"v":-24.2},{"s":"10 V","f":5.3,"v":-24.35},{"s":"10 V","f":5.52,"v":-24.4},{"s":"10 V","f":5.75,"v":-24.45},{"s":"10 V","f":6.0,"v":-24.4},
{"s":"12 V","f":0.0,"v":-24.2},{"s":"12 V","f":0.03,"v":-22.6},{"s":"12 V","f":0.08,"v":-22.19},{"s":"12 V","f":0.15,"v":-23.5},{"s":"12 V","f":0.25,"v":-25.8},{"s":"12 V","f":0.35,"v":-27.2},{"s":"12 V","f":0.45,"v":-27.9},{"s":"12 V","f":0.55,"v":-27.95},{"s":"12 V","f":0.65,"v":-27.85},{"s":"12 V","f":0.72,"v":-27.55},{"s":"12 V","f":0.77,"v":-27.3},{"s":"12 V","f":0.85,"v":-27.8},{"s":"12 V","f":0.92,"v":-28.0},{"s":"12 V","f":1.0,"v":-27.7},{"s":"12 V","f":1.12,"v":-27.45},{"s":"12 V","f":1.25,"v":-27.0},{"s":"12 V","f":1.35,"v":-26.8},{"s":"12 V","f":1.52,"v":-26.5},{"s":"12 V","f":1.7,"v":-26.2},{"s":"12 V","f":1.85,"v":-26.0},{"s":"12 V","f":2.06,"v":-25.73},{"s":"12 V","f":2.3,"v":-25.55},{"s":"12 V","f":2.6,"v":-25.38},{"s":"12 V","f":2.84,"v":-25.26},{"s":"12 V","f":3.08,"v":-25.1},{"s":"12 V","f":3.3,"v":-24.98},{"s":"12 V","f":3.45,"v":-24.95},{"s":"12 V","f":3.64,"v":-24.64},{"s":"12 V","f":3.8,"v":-24.7},{"s":"12 V","f":3.95,"v":-24.75},{"s":"12 V","f":4.12,"v":-24.8},{"s":"12 V","f":4.3,"v":-24.5},{"s":"12 V","f":4.5,"v":-24.25},{"s":"12 V","f":4.7,"v":-24.0},{"s":"12 V","f":4.85,"v":-23.9},{"s":"12 V","f":4.98,"v":-23.68},{"s":"12 V","f":5.1,"v":-23.8},{"s":"12 V","f":5.3,"v":-23.9},{"s":"12 V","f":5.52,"v":-23.9},{"s":"12 V","f":5.75,"v":-23.95},{"s":"12 V","f":6.0,"v":-23.8},
{"s":"15 V","f":0.0,"v":-27.6},{"s":"15 V","f":0.02,"v":-25.0},{"s":"15 V","f":0.05,"v":-23.8},{"s":"15 V","f":0.08,"v":-23.38},{"s":"15 V","f":0.12,"v":-24.5},{"s":"15 V","f":0.2,"v":-26.48},{"s":"15 V","f":0.32,"v":-27.2},{"s":"15 V","f":0.45,"v":-27.5},{"s":"15 V","f":0.6,"v":-27.45},{"s":"15 V","f":0.7,"v":-27.0},{"s":"15 V","f":0.77,"v":-26.45},{"s":"15 V","f":0.85,"v":-27.0},{"s":"15 V","f":0.92,"v":-27.3},{"s":"15 V","f":1.0,"v":-27.1},{"s":"15 V","f":1.12,"v":-26.8},{"s":"15 V","f":1.25,"v":-26.3},{"s":"15 V","f":1.35,"v":-26.1},{"s":"15 V","f":1.52,"v":-25.8},{"s":"15 V","f":1.7,"v":-25.45},{"s":"15 V","f":1.85,"v":-25.2},{"s":"15 V","f":2.06,"v":-24.9},{"s":"15 V","f":2.3,"v":-24.65},{"s":"15 V","f":2.6,"v":-24.4},{"s":"15 V","f":2.85,"v":-24.2},{"s":"15 V","f":3.08,"v":-24.1},{"s":"15 V","f":3.21,"v":-23.97},{"s":"15 V","f":3.4,"v":-23.85},{"s":"15 V","f":3.5,"v":-23.75},{"s":"15 V","f":3.64,"v":-23.55},{"s":"15 V","f":3.8,"v":-23.6},{"s":"15 V","f":3.95,"v":-23.62},{"s":"15 V","f":4.12,"v":-23.65},{"s":"15 V","f":4.3,"v":-23.4},{"s":"15 V","f":4.5,"v":-23.2},{"s":"15 V","f":4.7,"v":-22.95},{"s":"15 V","f":4.85,"v":-22.8},{"s":"15 V","f":4.98,"v":-22.6},{"s":"15 V","f":5.1,"v":-22.75},{"s":"15 V","f":5.3,"v":-22.82},{"s":"15 V","f":5.52,"v":-22.82},{"s":"15 V","f":5.75,"v":-22.88},{"s":"15 V","f":6.0,"v":-22.92}
],
"labels":[
{"panel":"a","group":"load","text":"unloaded","f":4.39,"v":-0.63},
{"panel":"a","group":"load","text":"loaded","f":4.71,"v":-1.43},
{"panel":"a","group":"state","text":"up-state","f":2.55,"v":-1.48},
{"panel":"a","group":"state","text":"down-state","f":1.32,"v":-2.4},
{"panel":"b","group":"load","text":"unloaded","f":4.16,"v":-20.91},
{"panel":"b","group":"load","text":"loaded","f":4.25,"v":-22.03},
{"panel":"b","group":"state","text":"down-state","f":2.01,"v":-23.04},
{"panel":"b","group":"state","text":"up-state","f":0.98,"v":-30.74}
],
"arrows":[
{"panel":"a","id":"a1","group":"load","f0":5.03,"v0":-0.69,"f1":5.29,"v1":-0.829},
{"panel":"a","id":"a2","group":"load","f0":4.98,"v0":-1.508,"f1":5.4,"v1":-1.773},
{"panel":"a","id":"a3","group":"state","f0":2.42,"v0":-1.563,"f1":2.68,"v1":-1.679},
{"panel":"a","id":"a4","group":"state","f0":1.37,"v0":-2.286,"f1":1.55,"v1":-2.21},
{"panel":"b","id":"b1","group":"load","f0":5.14,"v0":-20.75,"f1":5.54,"v1":-20.56},
{"panel":"b","id":"b2","group":"load","f0":5.01,"v0":-22.03,"f1":5.55,"v1":-22.5},
{"panel":"b","id":"b3","group":"state","f0":2.65,"v0":-23.44,"f1":3.1,"v1":-23.66},
{"panel":"b","id":"b4","group":"state","f0":1.41,"v0":-30.45,"f1":1.57,"v1":-30.0}
],
"rings":[
{"panel":"a","id":"r1","group":"load","f":5.41,"v":-0.917},
{"panel":"a","id":"r2","group":"load","f":5.4,"v":-2.2},
{"panel":"a","id":"r3","group":"state","f":2.73,"v":-1.778},
{"panel":"a","id":"r4","group":"state","f":1.645,"v":-2.021},
{"panel":"b","id":"r5","group":"load","f":5.66,"v":-20.25},
{"panel":"b","id":"r6","group":"load","f":5.65,"v":-26.92},
{"panel":"b","id":"r7","group":"state","f":3.24,"v":-25.45},
{"panel":"b","id":"r8","group":"state","f":1.8,"v":-29.86}
]
},
"spacing":37,
"resolve":{"scale":{"shape":"independent"}},
"hconcat":[
{
 "width":373,"height":374,
 "title":{"text":"(a)","orient":"bottom","offset":16,"frame":"group","anchor":"middle","dx":10},
 "resolve":{"scale":{"shape":"independent"},"axis":{"x":"independent","y":"independent"}},
 "layer":[
  {"data":{"name":"s21"},"mark":{"type":"line","strokeWidth":1.6,"clip":true},
   "encoding":{
    "x":{"field":"f","type":"quantitative","scale":{"domain":[0,6],"nice":false,"zero":false},"axis":{"orient":"bottom","values":[1,2,3,4,5,6],"title":"Frequency (GHz)"}},
    "y":{"field":"v","type":"quantitative","scale":{"domain":[-2.585,-0.52],"nice":false,"zero":false},"axis":{"orient":"left","values":[-2.5,-2,-1.5,-1],"title":"S₂₁(dB)","titlePadding":25,"labelExpr":"toString(datum.value)"}},
    "color":{"field":"s","type":"nominal","sort":null,"scale":{"domain":["Unloaded","0 V","3 V","6 V","7 V","9 V","10 V","12 V","15 V"],"range":["#0072BD","#0000FF","#00FFFF","#000000","#FF00FF","#FF0000","#00FF00","#FFFF00","#D95319"]},
      "legend":{"title":null,"orient":"none","legendX":-85,"legendY":-36,"direction":"horizontal","columns":9,"symbolType":"stroke","symbolSize":2809,"symbolStrokeWidth":1.6,"clipHeight":26,"labelFont":"Liberation Sans","labelFontSize":24,"labelColor":"#000000","labelOffset":4,"columnPadding":8,"padding":0,"rowPadding":0,"labelLimit":300}}
   }},
  {"data":{"name":"labels"},"transform":[{"filter":"datum.panel==='a'"}],"mark":{"type":"text","align":"center","baseline":"middle","font":"Liberation Sans"},
   "encoding":{
    "x":{"field":"f","type":"quantitative","scale":{"domain":[0,6],"nice":false,"zero":false},"axis":{"orient":"top","values":[1,2,3,4,5],"labels":false,"title":null}},
    "y":{"field":"v","type":"quantitative","scale":{"domain":[-2.585,-0.52],"nice":false,"zero":false},"axis":{"orient":"right","values":[-2.5,-2,-1.5,-1],"labels":false,"title":null}},
    "text":{"field":"text"},
    "color":{"condition":{"test":"datum.group==='state'","value":"#FF0000"},"value":"#000000"},
    "size":{"condition":{"test":"datum.group==='state'","value":20},"value":24}
   }},
  {"data":{"name":"arrows"},"transform":[{"filter":"datum.panel==='a'"}],"mark":{"type":"rule","strokeWidth":1.5},
   "encoding":{
    "x":{"field":"f0","type":"quantitative","scale":{"domain":[0,6],"nice":false,"zero":false},"axis":null},
    "y":{"field":"v0","type":"quantitative","scale":{"domain":[-2.585,-0.52],"nice":false,"zero":false},"axis":null},
    "x2":{"field":"f1"},"y2":{"field":"v1"},
    "color":{"condition":{"test":"datum.group==='state'","value":"#FF0000"},"value":"#000000"}
   }},
  {"data":{"name":"arrows"},"transform":[{"filter":"datum.panel==='a'"}],"mark":{"type":"point","filled":true,"opacity":1,"size":4,"strokeWidth":0},
   "encoding":{
    "x":{"field":"f1","type":"quantitative","scale":{"domain":[0,6],"nice":false,"zero":false},"axis":null},
    "y":{"field":"v1","type":"quantitative","scale":{"domain":[-2.585,-0.52],"nice":false,"zero":false},"axis":null},
    "shape":{"field":"id","type":"nominal","scale":{"domain":["a1","a2","a3","a4"],"range":["M0,0L-2.56,-11.42L-9.3,-7.11Z","M0,0L-1.71,-11.58L-8.75,-7.77Z","M0,0L-3.48,-11.17L-9.85,-6.33Z","M0,0L-9.95,6.17L-3.66,11.12Z"]},"legend":null},
    "color":{"condition":{"test":"datum.group==='state'","value":"#FF0000"},"value":"#000000"}
   }},
  {"data":{"name":"rings"},"transform":[{"filter":"datum.panel==='a'"}],"mark":{"type":"point","filled":false,"opacity":1,"size":4,"strokeWidth":1.5,"strokeDash":[2,2]},
   "encoding":{
    "x":{"field":"f","type":"quantitative","scale":{"domain":[0,6],"nice":false,"zero":false},"axis":null},
    "y":{"field":"v","type":"quantitative","scale":{"domain":[-2.585,-0.52],"nice":false,"zero":false},"axis":null},
    "shape":{"field":"id","type":"nominal","scale":{"domain":["r1","r2","r3","r4"],"range":["M0,-15A7.5,15 0 1,1 0,15A7.5,15 0 1,1 0,-15Z","M0,-64A6.5,64 0 1,1 0,64A6.5,64 0 1,1 0,-64Z","M0,-19A8.5,19 0 1,1 0,19A8.5,19 0 1,1 0,-19Z","M0,-33A7,33 0 1,1 0,33A7,33 0 1,1 0,-33Z"]},"legend":null},
    "color":{"condition":{"test":"datum.group==='state'","value":"#FF0000"},"value":"#000000"}
   }}
 ]
},
{
 "width":374,"height":374,
 "title":{"text":"(b)","orient":"bottom","offset":16,"frame":"group","anchor":"middle","dx":17},
 "resolve":{"scale":{"shape":"independent"},"axis":{"x":"independent","y":"independent"}},
 "layer":[
  {"data":{"name":"s11"},"mark":{"type":"line","strokeWidth":1.6,"clip":true},
   "encoding":{
    "x":{"field":"f","type":"quantitative","scale":{"domain":[0,6],"nice":false,"zero":false},"axis":{"orient":"bottom","values":[1,2,3,4,5,6],"title":"Frequency (GHz)"}},
    "y":{"field":"v","type":"quantitative","scale":{"domain":[-31.5,-19.8],"nice":false,"zero":false},"axis":{"orient":"left","values":[-30,-28,-26,-24,-22,-20],"title":"S₁₁(dB)","titlePadding":6,"labelExpr":"toString(datum.value)"}},
    "color":{"field":"s","type":"nominal","sort":null,"scale":{"domain":["Unloaded","0 V","3 V","6 V","7 V","9 V","10 V","12 V","15 V"],"range":["#0072BD","#0000FF","#00FFFF","#000000","#FF00FF","#FF0000","#00FF00","#FFFF00","#D95319"]},
      "legend":{"title":null,"orient":"none","legendX":-85,"legendY":-36,"direction":"horizontal","columns":9,"symbolType":"stroke","symbolSize":2809,"symbolStrokeWidth":1.6,"clipHeight":26,"labelFont":"Liberation Sans","labelFontSize":24,"labelColor":"#000000","labelOffset":4,"columnPadding":8,"padding":0,"rowPadding":0,"labelLimit":300}}
   }},
  {"data":{"name":"labels"},"transform":[{"filter":"datum.panel==='b'"}],"mark":{"type":"text","align":"center","baseline":"middle","font":"Liberation Sans"},
   "encoding":{
    "x":{"field":"f","type":"quantitative","scale":{"domain":[0,6],"nice":false,"zero":false},"axis":{"orient":"top","values":[1,2,3,4,5],"labels":false,"title":null}},
    "y":{"field":"v","type":"quantitative","scale":{"domain":[-31.5,-19.8],"nice":false,"zero":false},"axis":{"orient":"right","values":[-30,-28,-26,-24,-22,-20],"labels":false,"title":null}},
    "text":{"field":"text"},
    "color":{"condition":{"test":"datum.group==='state'","value":"#FF0000"},"value":"#000000"},
    "size":{"condition":{"test":"datum.group==='state'","value":20},"value":24}
   }},
  {"data":{"name":"arrows"},"transform":[{"filter":"datum.panel==='b'"}],"mark":{"type":"rule","strokeWidth":1.5},
   "encoding":{
    "x":{"field":"f0","type":"quantitative","scale":{"domain":[0,6],"nice":false,"zero":false},"axis":null},
    "y":{"field":"v0","type":"quantitative","scale":{"domain":[-31.5,-19.8],"nice":false,"zero":false},"axis":null},
    "x2":{"field":"f1"},"y2":{"field":"v1"},
    "color":{"condition":{"test":"datum.group==='state'","value":"#FF0000"},"value":"#000000"}
   }},
  {"data":{"name":"arrows"},"transform":[{"filter":"datum.panel==='b'"}],"mark":{"type":"point","filled":true,"opacity":1,"size":4,"strokeWidth":0},
   "encoding":{
    "x":{"field":"f1","type":"quantitative","scale":{"domain":[0,6],"nice":false,"zero":false},"axis":null},
    "y":{"field":"v1","type":"quantitative","scale":{"domain":[-31.5,-19.8],"nice":false,"zero":false},"axis":null},
    "shape":{"field":"id","type":"nominal","scale":{"domain":["b1","b2","b3","b4"],"range":["M0,0L-11.63,-1.32L-9.76,6.46Z","M0,0L-8.45,-8.1L-11.68,-0.78Z","M0,0L-9.71,-6.54L-11.64,1.22Z","M0,0L-9.64,6.63L-3.13,11.28Z"]},"legend":null},
    "color":{"condition":{"test":"datum.group==='state'","value":"#FF0000"},"value":"#000000"}
   }},
  {"data":{"name":"rings"},"transform":[{"filter":"datum.panel==='b'"}],"mark":{"type":"point","filled":false,"opacity":1,"size":4,"strokeWidth":1.5,"strokeDash":[2,2]},
   "encoding":{
    "x":{"field":"f","type":"quantitative","scale":{"domain":[0,6],"nice":false,"zero":false},"axis":null},
    "y":{"field":"v","type":"quantitative","scale":{"domain":[-31.5,-19.8],"nice":false,"zero":false},"axis":null},
    "shape":{"field":"id","type":"nominal","scale":{"domain":["r5","r6","r7","r8"],"range":["M0,-15A7.5,15 0 1,1 0,15A7.5,15 0 1,1 0,-15Z","M0,-142A8,142 0 1,1 0,142A8,142 0 1,1 0,-142Z","M0,-64A5.5,64 0 1,1 0,64A5.5,64 0 1,1 0,-64Z","M0,-18A8,18 0 1,1 0,18A8,18 0 1,1 0,-18Z"]},"legend":null},
    "color":{"condition":{"test":"datum.group==='state'","value":"#FF0000"},"value":"#000000"}
   }}
 ]
}
]
}
